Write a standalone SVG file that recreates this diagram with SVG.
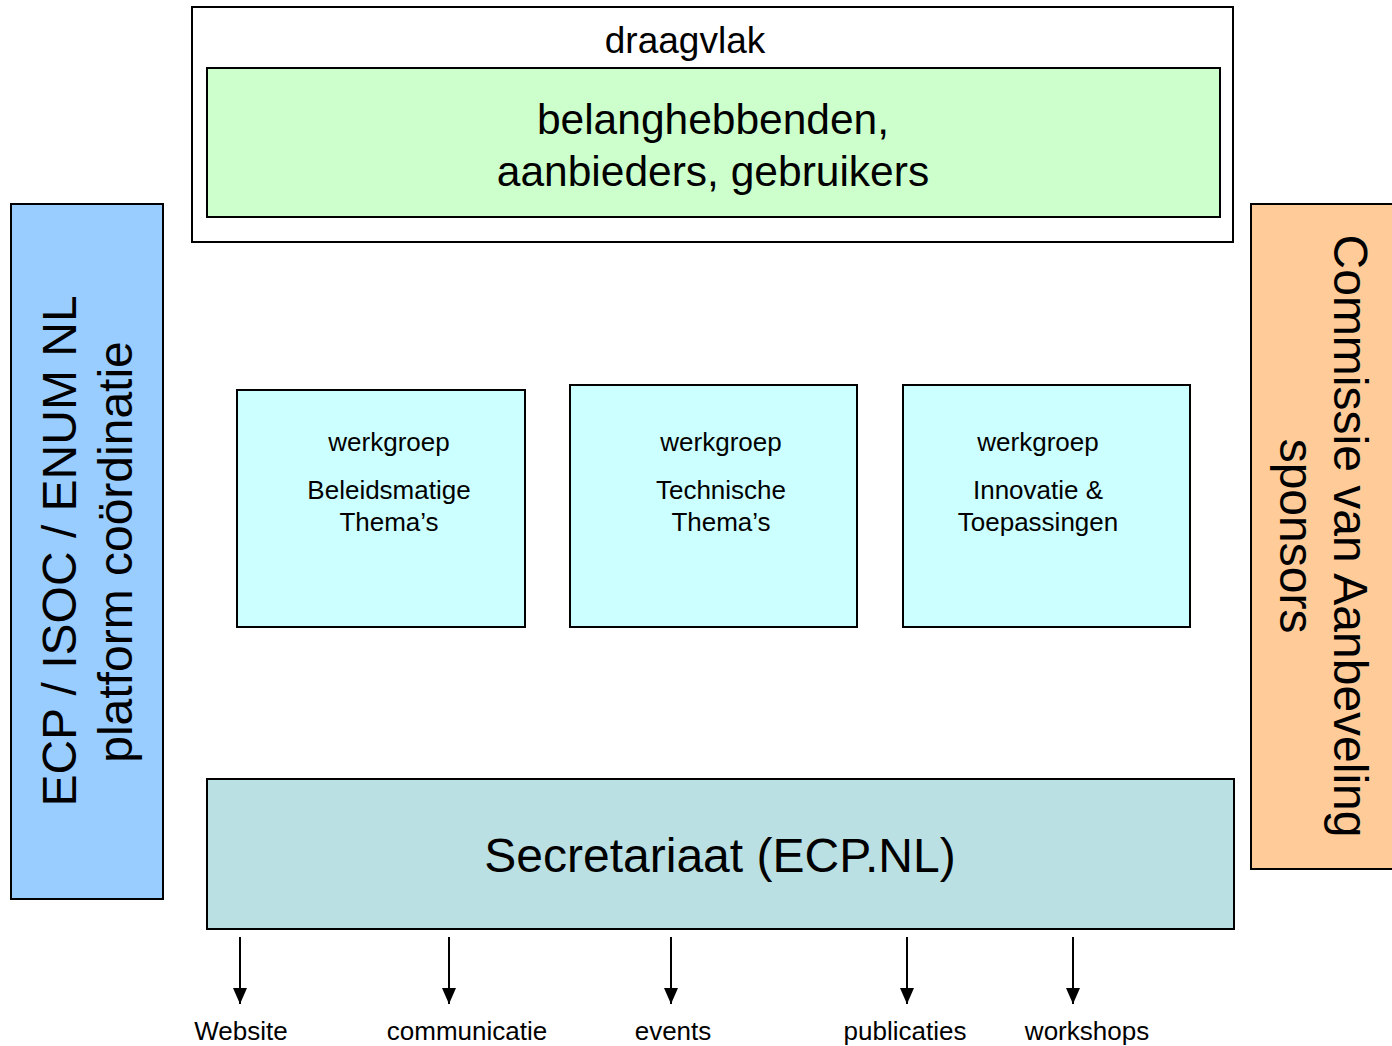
<svg xmlns="http://www.w3.org/2000/svg" width="1392" height="1046" viewBox="0 0 1392 1046">
<style>
text{font-family:"Liberation Sans",Arial,sans-serif;fill:#000;text-anchor:middle}
.box{stroke:#000;stroke-width:2}
.wg{fill:#CCFFFF}
.s26{font-size:26px}
.s48{font-size:48px}
.conn line{stroke:#000;stroke-width:2}
</style>
<defs>
<marker id="ah" viewBox="0 0 16 14" refX="16" refY="7" markerWidth="16" markerHeight="14" markerUnits="userSpaceOnUse" orient="auto">
<path d="M0,0 L16,7 L0,14 Z" fill="#000"/>
</marker>
</defs>
<rect width="1392" height="1046" fill="#fff"/>
<g id="draagvlak">
<rect class="box" x="192" y="7" width="1041" height="235" fill="#fff"/>
<text x="685" y="53" style="font-size:37px">draagvlak</text>
</g>
<g id="belanghebbenden">
<rect class="box" x="207" y="68" width="1013" height="149" fill="#CCFFCC"/>
<text x="713" y="134" style="font-size:42.5px">belanghebbenden,</text>
<text x="713" y="186" style="font-size:42.5px">aanbieders, gebruikers</text>
</g>
<g id="platform">
<rect class="box" x="11" y="204" width="152" height="695" fill="#99CCFF"/>
<text class="s48" transform="translate(76,551) rotate(-90)">ECP / ISOC / ENUM NL</text>
<text class="s48" transform="translate(132,552) rotate(-90)">platform coördinatie</text>
</g>
<g id="commissie">
<rect class="box" x="1251" y="204" width="145" height="665" fill="#FFCC99"/>
<text class="s48" transform="translate(1334,536) rotate(90)">Commissie van Aanbeveling</text>
<text class="s48" transform="translate(1280,536) rotate(90)">sponsors</text>
</g>
<g id="wg-beleid">
<rect class="box wg" x="237" y="390" width="288" height="237"/>
<text class="s26" x="389" y="451">werkgroep</text>
<text class="s26" x="389" y="499">Beleidsmatige</text>
<text class="s26" x="389" y="531">Thema’s</text>
</g>
<g id="wg-techniek">
<rect class="box wg" x="570" y="385" width="287" height="242"/>
<text class="s26" x="721" y="451">werkgroep</text>
<text class="s26" x="721" y="499">Technische</text>
<text class="s26" x="721" y="531">Thema’s</text>
</g>
<g id="wg-innovatie">
<rect class="box wg" x="903" y="385" width="287" height="242"/>
<text class="s26" x="1038" y="451">werkgroep</text>
<text class="s26" x="1038" y="499">Innovatie &amp;</text>
<text class="s26" x="1038" y="531">Toepassingen</text>
</g>
<g id="secretariaat">
<rect class="box" x="207" y="779" width="1027" height="150" fill="#BBE0E3"/>
<text class="s48" x="720" y="872">Secretariaat (ECP.NL)</text>
</g>
<g id="connectors" class="conn">
<line x1="240" y1="937" x2="240" y2="1004" marker-end="url(#ah)"/>
<line x1="449" y1="937" x2="449" y2="1004" marker-end="url(#ah)"/>
<line x1="671" y1="937" x2="671" y2="1004" marker-end="url(#ah)"/>
<line x1="907" y1="937" x2="907" y2="1004" marker-end="url(#ah)"/>
<line x1="1073" y1="937" x2="1073" y2="1004" marker-end="url(#ah)"/>
</g>
<g id="outputs">
<text class="s26" x="241" y="1040">Website</text>
<text class="s26" x="467" y="1040">communicatie</text>
<text class="s26" x="673" y="1040">events</text>
<text class="s26" x="905" y="1040">publicaties</text>
<text class="s26" x="1087" y="1040">workshops</text>
</g>
</svg>
